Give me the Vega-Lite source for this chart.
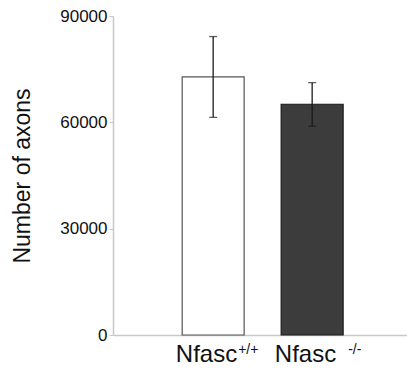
{
  "$schema": "https://vega.github.io/schema/vega-lite/v6.json",
  "width": 294,
  "height": 319,
  "autosize": {"type": "none"},
  "padding": {"left": 113, "top": 16, "right": 0, "bottom": 36},
  "background": "white",
  "config": {
    "view": {"stroke": null},
    "font": "Liberation Sans"
  },
  "data": {
    "values": [
      {"group": "wt", "base": "Nfasc", "sup": "+/+", "mean": 72800, "lo": 61400, "hi": 84200},
      {"group": "ko", "base": "Nfasc", "sup": "-/-", "mean": 65100, "lo": 58900, "hi": 71200}
    ]
  },
  "encoding": {
    "x": {
      "field": "group",
      "type": "nominal",
      "sort": null,
      "scale": {"domain": ["wt", "ko"], "paddingInner": 0.374, "paddingOuter": 0.672, "align": 0.52},
      "axis": {
        "title": null,
        "labels": false,
        "ticks": false,
        "domainColor": "#c8c8c8",
        "domainWidth": 1.5
      }
    }
  },
  "layer": [
    {
      "mark": {"type": "bar", "strokeWidth": 1.2},
      "encoding": {
        "y": {
          "field": "mean",
          "type": "quantitative",
          "scale": {"domain": [0, 90000], "nice": false},
          "axis": {
            "values": [0, 30000, 60000, 90000],
            "format": "d",
            "title": "Number of axons",
            "titleFontSize": 23,
            "titleFontWeight": "normal",
            "titleColor": "#111",
            "titlePadding": 25,
            "labelFontSize": 17,
            "labelColor": "#111",
            "labelPadding": 2,
            "tickSize": 4,
            "tickColor": "#c8c8c8",
            "domainColor": "#c8c8c8",
            "domainWidth": 1.5,
            "grid": false
          }
        },
        "fill": {
          "field": "group",
          "type": "nominal",
          "scale": {"domain": ["wt", "ko"], "range": ["#ffffff", "#3c3c3c"]},
          "legend": null
        },
        "stroke": {
          "field": "group",
          "type": "nominal",
          "scale": {"domain": ["wt", "ko"], "range": ["#555555", "#1a1a1a"]},
          "legend": null
        }
      }
    },
    {
      "mark": {"type": "rule", "color": "#1a1a1a", "strokeWidth": 1.3},
      "encoding": {
        "y": {"field": "lo", "type": "quantitative"},
        "y2": {"field": "hi"}
      }
    },
    {
      "mark": {"type": "tick", "color": "#1a1a1a", "size": 8, "thickness": 1.3},
      "encoding": {"y": {"field": "lo", "type": "quantitative"}}
    },
    {
      "mark": {"type": "tick", "color": "#1a1a1a", "size": 8, "thickness": 1.3},
      "encoding": {"y": {"field": "hi", "type": "quantitative"}}
    },
    {
      "mark": {"type": "text", "align": "right", "baseline": "alphabetic", "dx": 24, "dy": 27, "fontSize": 24, "color": "#111"},
      "encoding": {
        "y": {"datum": 0, "type": "quantitative"},
        "text": {"field": "base"}
      }
    },
    {
      "transform": [{"filter": "datum.group === 'wt'"}],
      "mark": {"type": "text", "align": "left", "baseline": "alphabetic", "dx": 25, "dy": 19, "fontSize": 14, "color": "#111"},
      "encoding": {
        "y": {"datum": 0, "type": "quantitative"},
        "text": {"field": "sup"}
      }
    },
    {
      "transform": [{"filter": "datum.group === 'ko'"}],
      "mark": {"type": "text", "align": "left", "baseline": "alphabetic", "dx": 36, "dy": 19, "fontSize": 14, "color": "#111"},
      "encoding": {
        "y": {"datum": 0, "type": "quantitative"},
        "text": {"field": "sup"}
      }
    }
  ]
}
